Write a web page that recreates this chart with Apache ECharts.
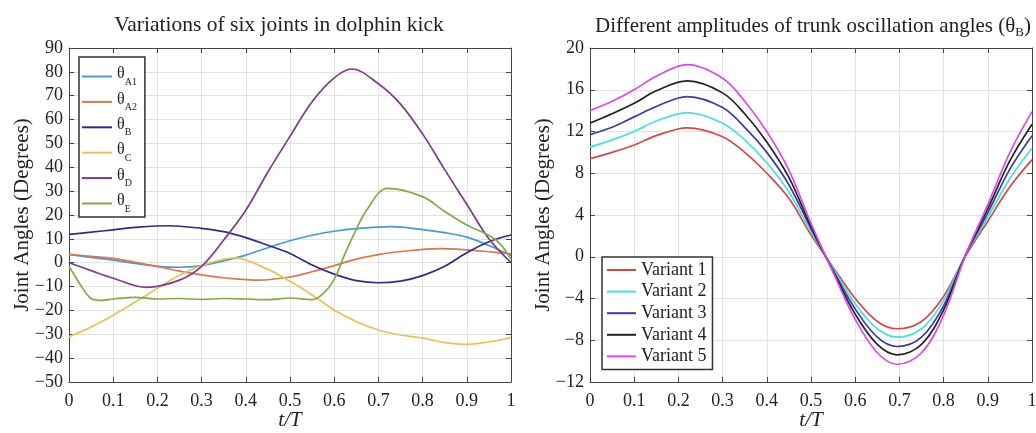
<!DOCTYPE html>
<html><head><meta charset="utf-8">
<script src="https://cdn.jsdelivr.net/npm/echarts@6/dist/echarts.min.js"></script>
<style>html,body{margin:0;padding:0;background:#fff}#c{width:1036px;height:433px}</style>
</head><body><div id="c"></div>
<script>
// ---------- data: left chart ----------
const tA1     = [0, 0.05, 0.1, 0.15, 0.2, 0.25, 0.3, 0.35, 0.4, 0.45, 0.5, 0.55, 0.6, 0.65, 0.73, 0.8, 0.85, 0.9, 0.95, 1];
const thetaA1 = [3.5, 2.2, 1.1, -0.3, -1.5, -1.9, -1.2, 0.8, 3.2, 6.3, 9.2, 11.5, 13.2, 14.3, 15.1, 13.9, 12.6, 10.7, 7.2, 3.0];
const tA2     = [0, 0.05, 0.1, 0.15, 0.2, 0.25, 0.3, 0.35, 0.43, 0.5, 0.55, 0.6, 0.65, 0.7, 0.75, 0.84, 0.9, 0.95, 1];
const thetaA2 = [3.5, 2.7, 1.8, 0.2, -1.6, -3.5, -5.1, -6.3, -7.3, -6.0, -3.8, -1.2, 1.5, 3.4, 4.7, 5.9, 5.4, 4.6, 3.7];
const tB      = [0, 0.05, 0.1, 0.15, 0.225, 0.3, 0.35, 0.4, 0.45, 0.5, 0.55, 0.6, 0.65, 0.7, 0.75, 0.8, 0.85, 0.9, 0.95, 1];
const thetaB  = [11.9, 12.8, 13.8, 14.8, 15.5, 14.4, 13.0, 10.5, 7.3, 3.9, -1.0, -4.8, -7.5, -8.4, -7.7, -5.4, -1.5, 4.2, 8.8, 11.6];
const tC      = [0, 0.05, 0.1, 0.15, 0.2, 0.25, 0.3, 0.375, 0.45, 0.5, 0.55, 0.6, 0.65, 0.7, 0.75, 0.8, 0.85, 0.9, 0.95, 1];
const thetaC  = [-31, -27, -22, -16.5, -10.7, -5.3, -1.2, 2.0, -2.8, -7.8, -13.5, -19.8, -24.7, -28.2, -30.3, -31.6, -33.5, -34.2, -33.2, -31.4];
const tD      = [0, 0.05, 0.1, 0.175, 0.25, 0.3, 0.35, 0.4, 0.45, 0.5, 0.55, 0.6, 0.64, 0.7, 0.75, 0.8, 0.85, 0.9, 0.95, 1];
const thetaD  = [0, -3.3, -6.5, -10.3, -7.3, -1.5, 9.5, 22, 38, 53, 67.5, 77.5, 81.2, 75, 66.5, 54, 39, 24.5, 10, 0];
const tE      = [0, 0.025, 0.05, 0.075, 0.1, 0.15, 0.2, 0.25, 0.3, 0.35, 0.4, 0.45, 0.5, 0.55, 0.575, 0.6, 0.625, 0.65, 0.675, 0.72, 0.8, 0.85, 0.9, 0.95, 0.975, 1];
const thetaE  = [-1.5, -9, -15, -15.8, -15.2, -14.5, -15.2, -15, -15.4, -15, -15.2, -15.5, -14.8, -15.5, -13, -7, 4, 14, 22.5, 31.2, 27.7, 21.5, 15.8, 11.5, 8, 1.5];
const leftNames = ['θA1', 'θA2', 'θB', 'θC', 'θD', 'θE'];
const leftColors = ['#4a98d0', '#d9784c', '#2c2c8c', '#e8c25a', '#7b3c8c', '#80ab46'];

// ---------- data: right chart ----------
const tRight = [0, 0.05, 0.1, 0.15, 0.22, 0.3, 0.35, 0.4, 0.45, 0.5, 0.55, 0.6, 0.65, 0.695, 0.75, 0.8, 0.85, 0.9, 0.95, 1];
const variant1 = [9.4, 10.0, 10.7, 11.6, 12.35, 11.5, 10.0, 8.0, 5.6, 2.1, -1.0, -4.0, -6.2, -6.9, -6.2, -3.8, 0.1, 3.4, 6.7, 9.3];
const variant2 = [10.5, 11.2, 12.0, 13.0, 13.8, 12.8, 11.2, 9.0, 6.2, 2.4, -1.1, -4.5, -6.9, -7.7, -6.9, -4.2, 0.2, 3.8, 7.5, 10.4];
const variant3 = [11.7, 12.4, 13.4, 14.4, 15.35, 14.3, 12.4, 10.0, 6.9, 2.7, -1.3, -5.0, -7.7, -8.6, -7.7, -4.7, 0.2, 4.2, 8.4, 11.6];
const variant4 = [12.8, 13.7, 14.7, 15.9, 16.85, 15.7, 13.7, 11.0, 7.6, 2.9, -1.4, -5.5, -8.4, -9.4, -8.4, -5.1, 0.2, 4.6, 9.2, 12.7];
const variant5 = [14.0, 14.9, 16.0, 17.3, 18.4, 17.1, 14.9, 12.0, 8.3, 3.2, -1.5, -6.0, -9.2, -10.3, -9.2, -5.6, 0.2, 5.0, 10.0, 13.9];
const rightNames = ['Variant 1', 'Variant 2', 'Variant 3', 'Variant 4', 'Variant 5'];
const rightColors = ['#d24a48', '#48e0d8', '#3a3aa8', '#222222', '#e048e8'];

// ---------- ticks ----------
const xTicks = {min: 0, max: 1, interval: 0.1};
const yLeftTicks = {min: -50, max: 90, interval: 10};
const yRightTicks = {min: -12, max: 20, interval: 4};

const FONT = "'Liberation Serif', 'Times New Roman', serif";
const AX = '#444';
const SMOOTH = 0.35;
const pair = (xs, ys) => xs.map((x, i) => [x, ys[i]]);
const fmtX = v => { const r = Math.round(v * 10) / 10; return r === 0 ? '0' : r === 1 ? '1' : r.toFixed(1); };
const fmtY = v => v < 0 ? '\u2212' + Math.abs(v) : String(v);

function xAxes(g) {
  return [{
    type: 'value', gridIndex: g, position: 'bottom', ...xTicks,
    axisLine: {show: true, onZero: false, lineStyle: {color: AX, width: 1}},
    axisTick: {show: true, inside: true, length: 5, lineStyle: {color: AX}},
    axisLabel: {fontFamily: FONT, fontSize: 18, color: '#222', margin: 10, formatter: fmtX},
    splitLine: {show: true, lineStyle: {color: '#e2e2e2', width: 1}},
    name: 't/T', nameLocation: 'middle', nameGap: 28, nameMoveOverlap: false,
    nameTextStyle: {fontFamily: FONT, fontSize: 21, fontStyle: 'italic', color: '#222'}
  }, {
    type: 'value', gridIndex: g, position: 'top', ...xTicks,
    axisLine: {show: true, onZero: false, lineStyle: {color: AX, width: 1}},
    axisTick: {show: true, inside: true, length: 5, lineStyle: {color: AX}},
    axisLabel: {show: false}, splitLine: {show: false}
  }];
}
function yAxes(g, ticks) {
  return [{
    type: 'value', gridIndex: g, position: 'left', ...ticks,
    axisLine: {show: true, onZero: false, lineStyle: {color: AX, width: 1}},
    axisTick: {show: true, inside: true, length: 5, lineStyle: {color: AX}},
    axisLabel: {fontFamily: FONT, fontSize: 18, color: '#222', margin: 6, formatter: fmtY},
    splitLine: {show: true, lineStyle: {color: '#e2e2e2', width: 1}},
    name: 'Joint Angles (Degrees)', nameLocation: 'middle', nameGap: 36, nameMoveOverlap: false,
    nameTextStyle: {fontFamily: FONT, fontSize: 21, color: '#222'}
  }, {
    type: 'value', gridIndex: g, position: 'right', ...ticks,
    axisLine: {show: true, onZero: false, lineStyle: {color: AX, width: 1}},
    axisTick: {show: true, inside: true, length: 5, lineStyle: {color: AX}},
    axisLabel: {show: false}, splitLine: {show: false}
  }];
}

const leftData = [pair(tA1, thetaA1), pair(tA2, thetaA2), pair(tB, thetaB), pair(tC, thetaC), pair(tD, thetaD), pair(tE, thetaE)];
const rightData = [variant1, variant2, variant3, variant4, variant5].map(v => pair(tRight, v));

const series = [];
leftNames.forEach((n, i) => series.push({
  name: n, type: 'line', xAxisIndex: 0, yAxisIndex: 0, data: leftData[i],
  smooth: SMOOTH, symbol: 'none', showSymbol: false, color: leftColors[i], lineStyle: {width: 1.7, color: leftColors[i]}, z: 3
}));
rightNames.forEach((n, i) => series.push({
  name: n, type: 'line', xAxisIndex: 2, yAxisIndex: 2, data: rightData[i],
  smooth: SMOOTH, symbol: 'none', showSymbol: false, color: rightColors[i], lineStyle: {width: 1.7, color: rightColors[i]}, z: 3
}));

const chart = echarts.init(document.getElementById('c'), null, {renderer: 'canvas'});
chart.setOption({
  animation: false,
  backgroundColor: '#fff',
  title: [{
    text: 'Variations of six joints in dolphin kick', left: 274, top: 9, textAlign: 'center',
    textStyle: {fontFamily: FONT, fontSize: 21.5, fontWeight: 'normal', color: '#222'}
  }, {
    text: '{a|Different amplitudes of trunk oscillation angles (θ}{s|B}{a|)}', left: 808, top: 8, textAlign: 'center',
    textStyle: {fontWeight: 'normal', rich: {
      a: {fontFamily: FONT, fontSize: 21, fontWeight: 'normal', color: '#222', lineHeight: 26, verticalAlign: 'middle'},
      s: {fontFamily: FONT, fontSize: 13, fontWeight: 'normal', color: '#222', lineHeight: 13, verticalAlign: 'bottom'}
    }}
  }],
  grid: [
    {left: 69, right: 525, top: 48, bottom: 51, containLabel: false, outerBoundsMode: 'none'},
    {left: 590, right: 4, top: 48, bottom: 51, containLabel: false, outerBoundsMode: 'none'}
  ],
  xAxis: [...xAxes(0), ...xAxes(1)],
  yAxis: [...yAxes(0, yLeftTicks), ...yAxes(1, yRightTicks)],
  legend: [{
    data: leftNames, orient: 'vertical', left: 79, top: 57, icon: 'rect',
    itemWidth: 30, itemHeight: 2, itemGap: 4.4,
    padding: [9, 8, 3, 3], backgroundColor: '#fff', borderColor: '#333', borderWidth: 1.5, borderRadius: 0,
    formatter: n => '{t|θ}{s|' + n.slice(1) + '}',
    textStyle: {rich: {
      t: {fontFamily: FONT, fontSize: 16, color: '#222', lineHeight: 21, verticalAlign: 'top'},
      s: {fontFamily: FONT, fontSize: 10, color: '#222', lineHeight: 10, verticalAlign: 'bottom'}
    }}
  }, {
    data: rightNames, orient: 'vertical', left: 602, top: 257, icon: 'rect',
    itemWidth: 29, itemHeight: 2, itemGap: 1.6,
    padding: [3, 6, 3, 5], backgroundColor: '#fff', borderColor: '#333', borderWidth: 1.5, borderRadius: 0,
    textStyle: {fontFamily: FONT, fontSize: 18, color: '#222', lineHeight: 20}
  }],
  series
});
</script></body></html>
